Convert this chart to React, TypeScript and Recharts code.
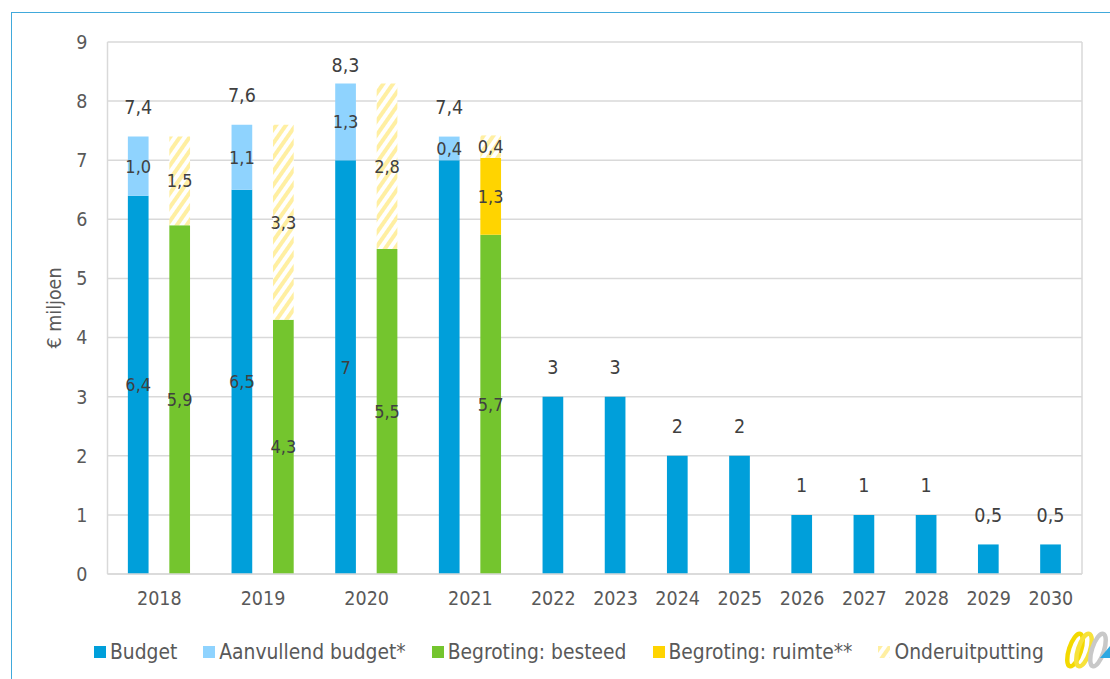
import React from 'react';
import { BarChart, Bar, XAxis, YAxis, CartesianGrid, LabelList } from 'recharts';

// ---- data ----
const years = ['2018', '2019', '2020', '2021', '2022', '2023', '2024', '2025', '2026', '2027', '2028', '2029', '2030'];
const budget = [6.4, 6.5, 7, 7, 3, 3, 2, 2, 1, 1, 1, 0.5, 0.5];
const aanvullend = [1.0, 1.1, 1.3, 0.4];
const besteed = [5.9, 4.3, 5.5, 5.74];
const ruimte = [0, 0, 0, 1.3];
const onderuitputting = [1.5, 3.3, 2.8, 0.38];
const budgetLabelHidden = ['2021'];
const yTicks = [0, 1, 2, 3, 4, 5, 6, 7, 8, 9];

const C_BUDGET = '#009FDA';
const C_AANV = '#8FD3FE';
const C_BESTEED = '#74C52E';
const C_RUIMTE = '#FFD400';
const C_STRIPE = '#FFEFA2';
const TXT = '#404040';
const AX = '#595959';
const FONT = "'DejaVu Sans Condensed', 'Open Sans', sans-serif";

const fmtGen = (v: number) => String(Math.round(v * 10) / 10).replace('.', ',');
const fmt1 = (v: number) => v.toFixed(1).replace('.', ',');

// ---- layout units on a numeric x axis ----
const GROUP = 5;
const SINGLE = 3;
const rows: any[] = [];
const tickPos: number[] = [];
let cursor = 0;
years.forEach((y, i) => {
  if (i < aanvullend.length) {
    rows.push({
      pos: cursor + 1.5,
      budget: budget[i],
      aanv: aanvullend[i],
      budgetLabel: budgetLabelHidden.includes(y) ? undefined : fmtGen(budget[i]),
      aanvLabel: fmt1(aanvullend[i]),
      totalLabel: fmtGen(budget[i] + aanvullend[i]),
    });
    rows.push({
      pos: cursor + 3.5,
      besteed: besteed[i],
      ruimte: ruimte[i],
      onder: onderuitputting[i],
      besteedLabel: fmt1(besteed[i]),
      ruimteLabel: ruimte[i] > 0 ? fmt1(ruimte[i]) : undefined,
      onderLabel: fmt1(onderuitputting[i]),
    });
    tickPos.push(cursor + 2.5);
    cursor += GROUP;
  } else {
    rows.push({ pos: cursor + 1.5, budget: budget[i], singleTotalLabel: fmtGen(budget[i]) });
    tickPos.push(cursor + 1.5);
    cursor += SINGLE;
  }
});
const xMax = cursor;

const innerLabel = (props: any) => {
  const vb = props.viewBox || props;
  const { value } = props;
  if (value === undefined || value === null || value === '') return null;
  const x = Number(vb.x) + Number(vb.width) / 2;
  const y = Number(vb.y) + Number(vb.height) / 2;
  return (
    <text x={x} y={y} textAnchor="middle" dominantBaseline="central" fontSize={18} fill={TXT} fontFamily={FONT}>
      {value}
    </text>
  );
};

const totalLabel = (props: any) => {
  const vb = props.viewBox || props;
  const { value } = props;
  if (value === undefined || value === null || value === '') return null;
  const x = Number(vb.x) + Number(vb.width) / 2;
  const top = Math.min(Number(vb.y), Number(vb.y) + Number(vb.height));
  const y = Math.max(top - 29, 65);
  return (
    <text x={x} y={y} textAnchor="middle" dominantBaseline="central" fontSize={19.5} fill={TXT} fontFamily={FONT}>
      {value}
    </text>
  );
};

const legendItems = [
  { name: 'Budget', color: C_BUDGET },
  { name: 'Aanvullend budget*', color: C_AANV },
  { name: 'Begroting: besteed', color: C_BESTEED },
  { name: 'Begroting: ruimte**', color: C_RUIMTE },
  { name: 'Onderuitputting', color: 'stripe' },
];

export default function App() {
  return (
    <div style={{ position: 'relative', width: 1110, height: 679, background: '#fff', overflow: 'hidden', fontFamily: FONT }}>
      <style>{'body{margin:0}'}</style>
      <div
        style={{
          position: 'absolute', left: 11, top: 12, width: 1200, height: 800,
          borderTop: '1.5px solid #41A9DB', borderLeft: '1.5px solid #41A9DB',
        }}
      />
      <div style={{ position: 'absolute', left: 0, top: 0 }}>
        <BarChart width={1110} height={679} data={rows} margin={{ top: 42, right: 28, bottom: 65, left: 47.5 }}>
          <defs>
            <pattern id="stripes" patternUnits="userSpaceOnUse" width="8" height="8" patternTransform="rotate(35)">
              <rect x="0" y="0" width="8" height="8" fill="#ffffff" />
              <rect x="0" y="0" width="4" height="8" fill={C_STRIPE} />
            </pattern>
          </defs>
          <CartesianGrid
            stroke="#D9D9D9"
            strokeWidth={1.5}
            vertical={true}
            verticalCoordinatesGenerator={({ offset }: any) => [offset.left + offset.width]}
          />
          <XAxis
            type="number"
            dataKey="pos"
            domain={[0, xMax]}
            ticks={tickPos}
            interval={0}
            tickFormatter={(v: number) => years[tickPos.indexOf(v)] ?? ''}
            axisLine={{ stroke: '#D9D9D9', strokeWidth: 1.5 }}
            tickLine={false}
            tickMargin={11}
            height={40}
            tick={{ fontSize: 19.5, fill: AX, fontFamily: FONT }}
          />
          <YAxis
            domain={[0, 9]}
            ticks={yTicks}
            interval={0}
            width={60}
            axisLine={{ stroke: '#D9D9D9', strokeWidth: 1.5 }}
            tickLine={false}
            tickMargin={14}
            tick={{ fontSize: 19.5, fill: AX, fontFamily: FONT }}
          />
          <Bar dataKey="budget" stackId="s" fill={C_BUDGET} barSize={20.7} isAnimationActive={false}>
            <LabelList dataKey="budgetLabel" content={innerLabel} />
            <LabelList dataKey="singleTotalLabel" content={totalLabel} />
          </Bar>
          <Bar dataKey="aanv" stackId="s" fill={C_AANV} barSize={20.7} isAnimationActive={false}>
            <LabelList dataKey="aanvLabel" content={innerLabel} />
            <LabelList dataKey="totalLabel" content={totalLabel} />
          </Bar>
          <Bar dataKey="besteed" stackId="s" fill={C_BESTEED} barSize={20.7} isAnimationActive={false}>
            <LabelList dataKey="besteedLabel" content={innerLabel} />
          </Bar>
          <Bar dataKey="ruimte" stackId="s" fill={C_RUIMTE} barSize={20.7} isAnimationActive={false}>
            <LabelList dataKey="ruimteLabel" content={innerLabel} />
          </Bar>
          <Bar dataKey="onder" stackId="s" fill="url(#stripes)" barSize={20.7} isAnimationActive={false}>
            <LabelList dataKey="onderLabel" content={innerLabel} />
          </Bar>
        </BarChart>
      </div>

      <div
        style={{
          position: 'absolute', left: 55, top: 308, transform: 'translate(-50%, -50%) rotate(-90deg)',
          fontSize: 19.5, color: AX, whiteSpace: 'nowrap', lineHeight: 1,
        }}
      >
        € miljoen
      </div>

      <div style={{ position: 'absolute', left: 94, top: 640, display: 'flex', alignItems: 'center', gap: 26, fontSize: 20.8, color: AX, whiteSpace: 'nowrap', lineHeight: '24px' }}>
        {legendItems.map((it) => (
          <div key={it.name} style={{ display: 'flex', alignItems: 'center', gap: 4 }}>
            {it.color === 'stripe' ? (
              <svg width={12} height={12}>
                <defs>
                  <pattern id="lgstripes" patternUnits="userSpaceOnUse" width="8" height="8" patternTransform="rotate(35)">
                    <rect x="0" y="0" width="8" height="8" fill="#ffffff" />
                    <rect x="0" y="0" width="4" height="8" fill={C_STRIPE} />
                  </pattern>
                </defs>
                <rect x={0} y={0} width={12} height={12} fill="url(#lgstripes)" />
              </svg>
            ) : (
              <div style={{ width: 12, height: 12, background: it.color }} />
            )}
            <span>{it.name}</span>
          </div>
        ))}
      </div>

      <svg style={{ position: 'absolute', left: 1064, top: 628 }} width={46} height={44}>
        <ellipse cx={11} cy={22} rx={6} ry={17} fill="none" stroke="#F3D900" strokeWidth={4.5} transform="rotate(18 11 22)" />
        <ellipse cx={20} cy={22} rx={6} ry={17} fill="none" stroke="#F7E23A" strokeWidth={4.5} transform="rotate(18 20 22)" />
        <ellipse cx={34} cy={22} rx={6} ry={17} fill="none" stroke="#C8C8C8" strokeWidth={4.5} transform="rotate(18 34 22)" />
        <polygon points="36,30 46,18 46,30" fill="#2DA8E2" />
      </svg>
    </div>
  );
}
